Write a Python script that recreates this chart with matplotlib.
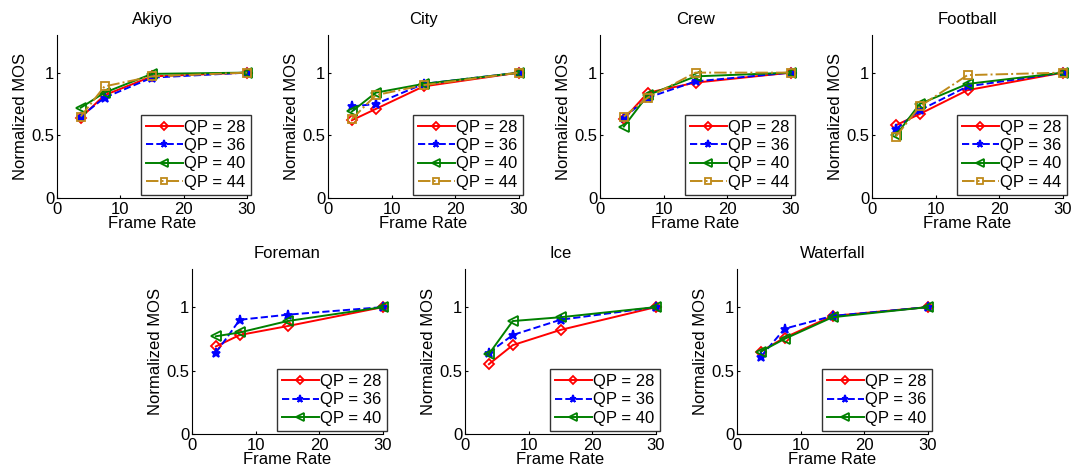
import matplotlib.pyplot as plt
import numpy as np

plt.rcParams['font.family'] = ['Liberation Sans', 'DejaVu Sans']

# frame rates (fps)
frame_rate = [3.75, 7.5, 15, 30]
qp_labels = ['QP = 28', 'QP = 36', 'QP = 40', 'QP = 44']

# normalized MOS per sequence, one row per QP
akiyo = [[0.64, 0.82, 0.97, 1.0],
         [0.65, 0.80, 0.96, 1.0],
         [0.72, 0.84, 0.99, 1.0],
         [0.65, 0.89, 0.97, 1.0]]
city = [[0.62, 0.71, 0.89, 1.0],
        [0.73, 0.75, 0.91, 1.0],
        [0.69, 0.84, 0.91, 1.0],
        [0.63, 0.82, 0.90, 1.0]]
crew = [[0.63, 0.84, 0.92, 1.0],
        [0.64, 0.80, 0.93, 1.0],
        [0.57, 0.82, 0.97, 1.0],
        [0.65, 0.80, 1.00, 1.0]]
football = [[0.58, 0.67, 0.86, 1.0],
            [0.55, 0.70, 0.89, 1.0],
            [0.50, 0.75, 0.91, 1.0],
            [0.49, 0.73, 0.98, 1.0]]
foreman = [[0.69, 0.78, 0.85, 1.0],
           [0.64, 0.90, 0.94, 1.0],
           [0.77, 0.80, 0.89, 1.0]]
ice = [[0.55, 0.70, 0.82, 1.0],
       [0.64, 0.78, 0.90, 1.0],
       [0.63, 0.89, 0.92, 1.0]]
waterfall = [[0.65, 0.76, 0.93, 1.0],
             [0.61, 0.83, 0.93, 1.0],
             [0.65, 0.75, 0.92, 1.0]]

titles = ['Akiyo', 'City', 'Crew', 'Football', 'Foreman', 'Ice', 'Waterfall']
datasets = [akiyo, city, crew, football, foreman, ice, waterfall]

# line styles like the old matlab figure
styles = [dict(color='red', ls='-', marker='D', ms=5, mfc='none'),
          dict(color='blue', ls='--', marker='*', ms=6.5, mfc='blue'),
          dict(color='#008000', ls='-', marker='<', ms=6.5, mfc='none'),
          dict(color='#BF8A1A', ls='-.', marker='s', ms=5.5, mfc='none')]

W, H = 1074, 470
fig = plt.figure(figsize=(W / 100, H / 100), dpi=100)

# axes boxes in pixels: left, top, width, height
boxes = [(57, 35, 190, 163), (328, 35, 191, 163), (600, 35, 191, 163), (872, 35, 191, 163),
         (192, 269, 191, 165), (465, 269, 191, 165), (737, 269, 191, 165)]

for (l, t, w, h), title, data in zip(boxes, titles, datasets):
    ax = fig.add_axes([l / W, 1 - (t + h) / H, w / W, h / H])
    for i, y in enumerate(data):
        ax.plot(frame_rate, y, lw=1.4, mew=1.3, label=qp_labels[i],
                clip_on=False, **styles[i])
    ax.set_xlim(0, 30)
    ax.set_ylim(0, 1.3)
    ax.set_xticks([0, 10, 20, 30])
    ax.set_yticks([0, 0.5, 1])
    ax.set_yticklabels(['0', '0.5', '1'])
    ax.spines['top'].set_visible(False)
    ax.spines['right'].set_visible(False)
    ax.tick_params(direction='in', length=2, labelsize=12)
    ax.tick_params(axis='x', pad=3)
    ax.tick_params(axis='y', pad=2)
    ax.set_title(title, fontsize=12, pad=8)
    ax.set_xlabel('Frame Rate', fontsize=12, labelpad=-1)
    ax.set_ylabel('Normalized MOS', fontsize=12, labelpad=2)
    leg = ax.legend(loc='lower right', bbox_to_anchor=(1.02, 0.02), fontsize=12,
                    handlelength=2.2, handletextpad=0.1, borderpad=0.3,
                    labelspacing=0.2, borderaxespad=0, fancybox=False,
                    markerscale=0.8)
    leg.get_frame().set_edgecolor('black')
    leg.get_frame().set_linewidth(1.0)

plt.savefig('out.png', dpi=100)
